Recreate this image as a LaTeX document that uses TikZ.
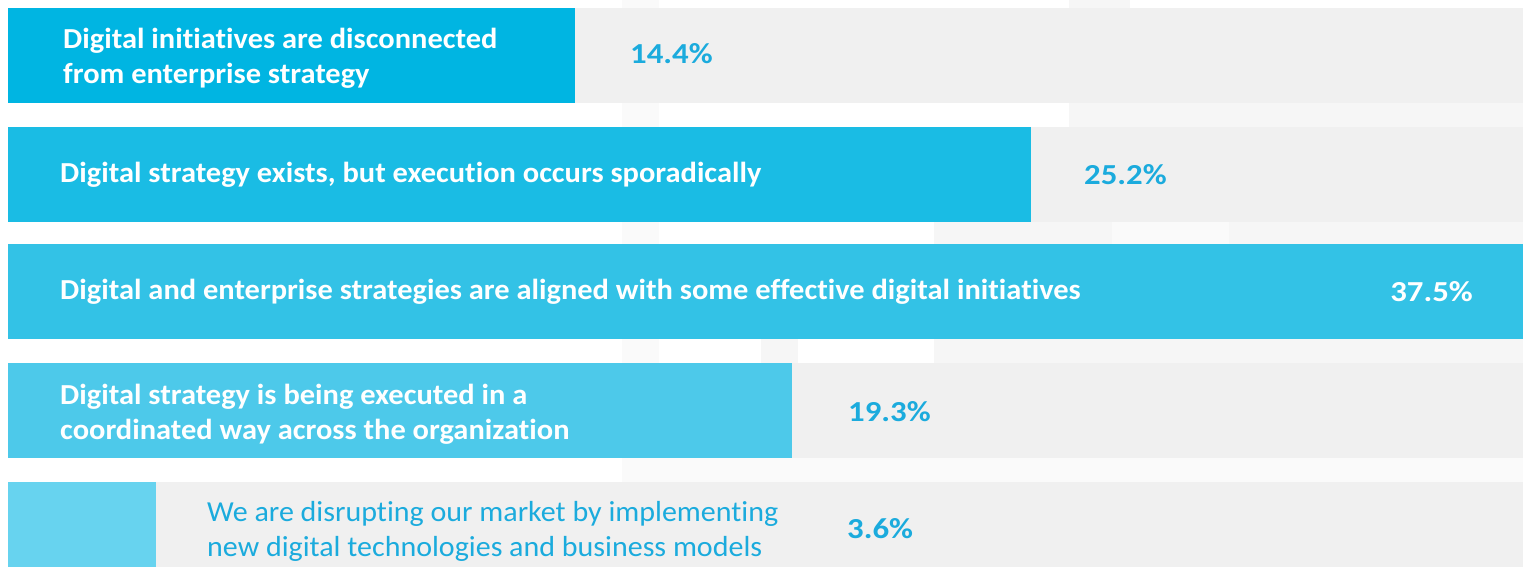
\documentclass[tikz,border=0pt]{standalone}
\usepackage{fontspec}
\setmainfont{Carlito}[Ligatures=NoCommon, FakeStretch=1.05]
\newfontfamily\pctfont{Carlito}[Ligatures=NoCommon, FakeStretch=1.13]
\newfontfamily\plainfont{Carlito}[Ligatures=NoCommon, FakeStretch=1.035]
\definecolor{barA}{HTML}{00B5E2}
\definecolor{barB}{HTML}{1ABCE4}
\definecolor{barC}{HTML}{33C2E6}
\definecolor{barD}{HTML}{4DC9EA}
\definecolor{barE}{HTML}{67D3EF}
\definecolor{track}{HTML}{F0F0F0}
\definecolor{faint}{HTML}{F6F6F6}
\definecolor{fainter}{HTML}{FAFAFA}
\definecolor{pct}{HTML}{1BABDD}
\begin{document}
\begin{tikzpicture}[x=1pt,y=-1pt,
  trackbar/.style={fill=track, draw=none, anchor=north west, inner sep=0pt, outer sep=0pt, minimum height=95pt, minimum width=1515pt},
  valbar/.style={draw=none, anchor=north west, inner sep=0pt, outer sep=0pt, minimum height=95pt},
  lbl/.style={anchor=west, inner sep=0pt, align=left, text=white, font=\fontsize{29}{35}\selectfont\bfseries},
  lblplain/.style={anchor=west, inner sep=0pt, align=left, text=pct, font=\fontsize{29}{35}\selectfont\plainfont},
  pctlbl/.style={anchor=west, inner sep=0pt, text=pct, font=\fontsize{29}{35}\selectfont\pctfont\bfseries}]
\useasboundingbox (0,0) rectangle (1523,566);
\fill[white] (0,0) rectangle (1523,566);
% faint background illustration
\fill[fainter] (622,0) rectangle (659,566);
\fill[faint] (1069,0) rectangle (1130,8);
\fill[faint] (1069,103) rectangle (1523,127);
\fill[faint] (934,222) rectangle (1523,244);
\fill[fainter] (1112,222) rectangle (1229,244);
\fill[faint] (761,339) rectangle (798,363);
\fill[faint] (934,339) rectangle (1523,363);
\fill[fainter] (622,458) rectangle (1523,482);
% tracks
\node[trackbar] (tr1) at (8,8) {};
\node[trackbar] (tr2) at (8,127) {};
\node[trackbar] (tr3) at (8,244) {};
\node[trackbar] (tr4) at (8,363) {};
\node[trackbar] (tr5) at (8,482) {};
% value bars
\node[valbar, fill=barA, minimum width=567pt] (b1) at (8,8) {};
\node[valbar, fill=barB, minimum width=1023pt] (b2) at (8,127) {};
\node[valbar, fill=barC, minimum width=1515pt] (b3) at (8,244) {};
\node[valbar, fill=barD, minimum width=784pt] (b4) at (8,363) {};
\node[valbar, fill=barE, minimum width=148pt] (b5) at (8,482) {};
% labels
\node[lbl] (t1) at (63,58.5) {Digital initiatives are disconnected\\from enterprise strategy};
\node[lbl] (t2) at (60,175) {Digital strategy exists, but execution occurs sporadically};
\node[lbl] (t3) at (60,292) {Digital and enterprise strategies are aligned with some effective digital initiatives};
\node[lbl] (t4) at (60,414) {Digital strategy is being executed in a\\coordinated way across the organization};
\node[lblplain] (t5) at (207,531) {We are disrupting our market by implementing\\new digital technologies and business models};
% percentages
\node[pctlbl] (p1) at (630,54) {14.4\%};
\node[pctlbl] (p2) at (1084,175) {25.2\%};
\node[pctlbl, anchor=east, text=white] (p3) at (1473,292) {37.5\%};
\node[pctlbl] (p4) at (848,412) {19.3\%};
\node[pctlbl] (p5) at (847,529) {3.6\%};
\end{tikzpicture}
\end{document}
